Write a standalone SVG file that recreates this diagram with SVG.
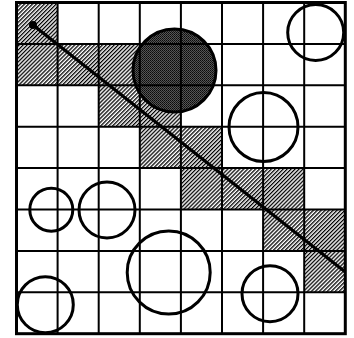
<svg xmlns="http://www.w3.org/2000/svg" width="354" height="338" viewBox="0 0 354 338">
<defs>
<pattern id="hatch" patternUnits="userSpaceOnUse" width="2.8" height="10" patternTransform="rotate(45)">
<rect x="0" y="0" width="1.3" height="10" fill="#000"/>
</pattern>
<pattern id="stip" patternUnits="userSpaceOnUse" width="2" height="2">
<rect width="2" height="2" fill="#555"/>
<rect width="1" height="1" fill="#0a0a0a"/>
<rect x="1" y="1" width="1" height="1" fill="#1a1a1a"/>
</pattern>
</defs>
<style>
.h{fill:url(#hatch)}
.g{stroke:#000;stroke-width:2;fill:none}
.c{fill:none;stroke:#000;stroke-width:3}
</style>
<rect width="354" height="338" fill="#fff"/>
<g id="hatched-cells">
<rect class="h" x="16.5" y="2.5" width="41.1" height="41.4"/>
<rect class="h" x="16.5" y="43.9" width="164.4" height="41.4"/>
<rect class="h" x="98.7" y="85.3" width="82.2" height="41.4"/>
<rect class="h" x="139.8" y="126.7" width="82.2" height="41.4"/>
<rect class="h" x="180.9" y="168.1" width="123.3" height="41.4"/>
<rect class="h" x="263.1" y="209.5" width="82.2" height="41.4"/>
<rect class="h" x="304.2" y="250.9" width="41.1" height="41.4"/>
</g>
<g id="dark-circle">
<circle cx="174.5" cy="70.5" r="41.5" fill="url(#stip)" stroke="#000" stroke-width="3"/>
</g>
<g id="grid" class="g">
<path d="M57.6 2.5V333.7M98.7 2.5V333.7M139.8 2.5V333.7M180.9 2.5V333.7M222 2.5V333.7M263.1 2.5V333.7M304.2 2.5V333.7"/>
<path d="M16.5 43.9H345.3M16.5 85.3H345.3M16.5 126.7H345.3M16.5 168.1H345.3M16.5 209.5H345.3M16.5 250.9H345.3M16.5 292.3H345.3"/>
<rect x="16.5" y="2.5" width="328.8" height="331.2" stroke-width="3"/>
</g>
<g id="circles">
<circle class="c" cx="315.7" cy="32.5" r="28"/>
<circle class="c" cx="263.5" cy="127" r="34.5"/>
<circle class="c" cx="51.3" cy="209.7" r="21.5"/>
<circle class="c" cx="107" cy="210" r="28"/>
<circle class="c" cx="45.3" cy="304.7" r="28"/>
<circle class="c" cx="168.7" cy="272.5" r="41.5"/>
<circle class="c" cx="270" cy="293.7" r="28"/>
</g>
<g id="connectors">
<line x1="33" y1="25" x2="345.3" y2="272" stroke="#000" stroke-width="3.2"/>
<circle cx="33" cy="25" r="4" fill="#000"/>
</g>
</svg>
